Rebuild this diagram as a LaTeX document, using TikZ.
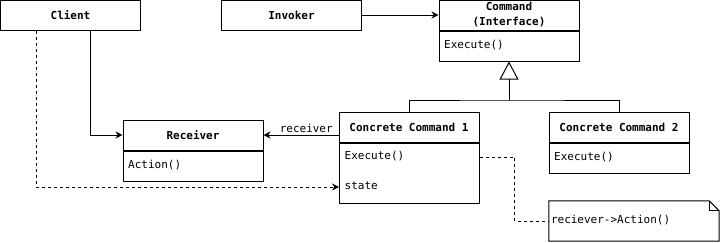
\documentclass[tikz,border=0pt]{standalone}
\usepackage{fontspec}
\setmainfont{DejaVu Sans Mono}
\usetikzlibrary{arrows.meta,positioning}

\begin{document}
\begin{tikzpicture}[x=1pt,y=-1pt,
font=\fontsize{11}{13}\selectfont,
head/.style={draw,line width=1pt,minimum width=140pt,minimum height=30pt,inner sep=0pt,align=center,font=\fontsize{11}{15}\selectfont\bfseries},
body/.style={draw,line width=1pt,minimum width=140pt,inner sep=0pt,anchor=north},
row/.style={anchor=west,inner sep=5.5pt,text height=8pt,text depth=2.5pt},
arr/.style={-{Stealth[length=7pt,width=7pt]},line width=1pt},
dep/.style={line width=1pt,dash pattern=on 3pt off 3pt},
lbl/.style={inner sep=1.5pt}
]
\useasboundingbox (0,0) rectangle (720,242);

\node[head] (client) at (70.5,15) {Client};
\node[head] (invoker) at (291.5,15) {Invoker};
\node[head] (cmd) at (509,15) {Command\\(Interface)};
\node[body,minimum height=30pt] (cmdbody) at (cmd.south) {};
\node[row] (cmdexec) at (cmdbody.west) {Execute()};

\node[head] (recv) at (193,135) {Receiver};
\node[body,minimum height=30pt] (recvbody) at (recv.south) {};
\node[row] (recvact) at (recvbody.west) {Action()};

\node[head] (cc1) at (409,127) {Concrete Command 1};
\node[body,minimum height=60pt] (cc1body) at (cc1.south) {};
\node[row] (cc1exec) at (339,157) {Execute()};
\node[row] (cc1state) at (339,187) {state};

\node[head] (cc2) at (619,127) {Concrete Command 2};
\node[body,minimum height=30pt] (cc2body) at (cc2.south) {};
\node[row] (cc2exec) at (cc2body.west) {Execute()};

\node[minimum width=170pt,minimum height=40pt,inner sep=0pt] (note) at (634,221) {};
\node[row,inner sep=2pt] (notetxt) at (note.west) {reciever->Action()};
\draw[line width=1pt] (note.south west) |- ([xshift=-10pt]note.north east) -- ([yshift=-10pt]note.north east) |- cycle;
\draw[line width=1pt] ([xshift=-10pt]note.north east) -- ([xshift=-10pt,yshift=-10pt]note.north east) -- ([yshift=-10pt]note.north east);

\coordinate (split) at (509,100);
\draw[line width=1pt] (cc1.north) |- (split) -| (cc2.north);
\draw[line width=1pt,-{Triangle[open,length=18pt,width=19pt]}] (split) -- (cmdbody.south);

\draw[arr] (invoker) -- (cmd);
\draw[arr] (cc1.west |- recv.east) -- (recv.east) node[lbl,pos=0.43,above] {receiver};
\draw[arr] ([xshift=20pt]client.south) |- (recv.west);
\draw[arr,dep] ([xshift=-34pt]client.south) |- (cc1state.west);
\draw[dep] (cc1body.east |- cc1exec) -- ++(35,0) |- (note.west);
\end{tikzpicture}
\end{document}
